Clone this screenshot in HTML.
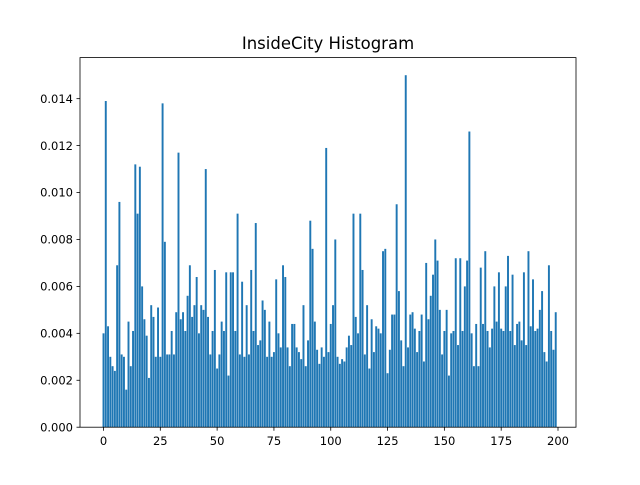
<!DOCTYPE html>
<html><head><meta charset="utf-8"><style>
body{margin:0;background:#fff;}
svg text{font-family:"DejaVu Sans","Liberation Sans",sans-serif;}
</style></head><body>
<svg id="chart" width="640" height="480" xmlns="http://www.w3.org/2000/svg">
<rect width="640" height="480" fill="#fff"/>
<text x="328" y="49" font-size="16.5" text-anchor="middle">InsideCity Histogram</text>
<g id="bars"></g>
<g id="axes"></g>
</svg>
<script>
const values = [0.0040,0.0139,0.0043,0.0030,0.0026,0.0024,0.0069,0.0096,0.0031,0.0030,0.0016,0.0045,0.0026,0.0041,0.0112,0.0091,0.0111,0.0060,0.0046,0.0039,0.0021,0.0052,0.0047,0.0030,0.0051,0.0030,0.0138,0.0079,0.0031,0.0031,0.0041,0.0031,0.0049,0.0117,0.0046,0.0049,0.0041,0.0056,0.0069,0.0047,0.0052,0.0064,0.0040,0.0052,0.0050,0.0110,0.0047,0.0031,0.0041,0.0067,0.0025,0.0031,0.0045,0.0041,0.0066,0.0022,0.0066,0.0066,0.0041,0.0091,0.0031,0.0062,0.0030,0.0052,0.0031,0.0067,0.0041,0.0087,0.0035,0.0037,0.0054,0.0050,0.0030,0.0045,0.0030,0.0032,0.0063,0.0040,0.0034,0.0069,0.0064,0.0034,0.0026,0.0044,0.0044,0.0034,0.0032,0.0029,0.0052,0.0026,0.0037,0.0088,0.0076,0.0045,0.0033,0.0027,0.0034,0.0030,0.0119,0.0032,0.0044,0.0052,0.0080,0.0030,0.0027,0.0029,0.0028,0.0034,0.0039,0.0035,0.0091,0.0047,0.0040,0.0091,0.0067,0.0031,0.0052,0.0025,0.0046,0.0032,0.0043,0.0042,0.0040,0.0075,0.0076,0.0023,0.0033,0.0048,0.0048,0.0095,0.0058,0.0037,0.0026,0.0150,0.0034,0.0048,0.0049,0.0042,0.0032,0.0041,0.0048,0.0028,0.0070,0.0046,0.0056,0.0065,0.0080,0.0071,0.0050,0.0031,0.0041,0.0050,0.0022,0.0040,0.0041,0.0072,0.0035,0.0072,0.0041,0.0060,0.0071,0.0126,0.0040,0.0026,0.0044,0.0026,0.0068,0.0044,0.0075,0.0041,0.0034,0.0042,0.0060,0.0045,0.0066,0.0042,0.0041,0.0060,0.0073,0.0041,0.0065,0.0035,0.0044,0.0045,0.0037,0.0066,0.0035,0.0075,0.0043,0.0063,0.0041,0.0042,0.0050,0.0058,0.0032,0.0028,0.0069,0.0041,0.0033,0.0049];
const xTicks = [0,25,50,75,100,125,150,175,200];
const yTicks = [0,0.002,0.004,0.006,0.008,0.010,0.012,0.014];
const yTickLabels = ["0.000","0.002","0.004","0.006","0.008","0.010","0.012","0.014"];

const L=80,R=576,T=57.6,B=427.2;
const yMax=Math.max(...values)*1.05;
function xs(v){return 103.5+v*(558-103.5)/200;}
function ys(v){return B-(v/yMax)*(B-T);}
const NS="http://www.w3.org/2000/svg";
const bars=document.getElementById('bars');
const bw=0.85*(558-103.5)/200;
values.forEach((v,i)=>{
  const r=document.createElementNS(NS,'rect');
  r.setAttribute('x',xs(i)-bw/2);
  r.setAttribute('y',ys(v));
  r.setAttribute('width',bw);
  r.setAttribute('height',B-ys(v));
  r.setAttribute('fill','#1f77b4');
  
  
  bars.appendChild(r);
});
const ax=document.getElementById('axes');
const frame=document.createElementNS(NS,'rect');
frame.setAttribute('x',L);frame.setAttribute('y',T);frame.setAttribute('width',R-L);frame.setAttribute('height',B-T);
frame.setAttribute('fill','none');frame.setAttribute('stroke','#000');frame.setAttribute('stroke-width','0.8');


ax.appendChild(frame);
xTicks.forEach(t=>{
  const x=xs(t);
  const l=document.createElementNS(NS,'line');
  l.setAttribute('x1',x);l.setAttribute('x2',x);l.setAttribute('y1',B);l.setAttribute('y2',B+3.5);
  l.setAttribute('stroke','#000');l.setAttribute('stroke-width','0.8');
  
  
  ax.appendChild(l);
  const tx=document.createElementNS(NS,'text');
  tx.setAttribute('x',x);tx.setAttribute('y',B+18);tx.setAttribute('font-size','11.5');tx.setAttribute('text-anchor','middle');
  tx.textContent=t;
  
  
  ax.appendChild(tx);
});
yTicks.forEach((t,i)=>{
  const y=ys(t);
  const l=document.createElementNS(NS,'line');
  l.setAttribute('x1',L-3.5);l.setAttribute('x2',L);l.setAttribute('y1',y);l.setAttribute('y2',y);
  l.setAttribute('stroke','#000');l.setAttribute('stroke-width','0.8');
  
  
  ax.appendChild(l);
  const tx=document.createElementNS(NS,'text');
  tx.setAttribute('x',L-7);tx.setAttribute('y',y+4.2);tx.setAttribute('font-size','11.5');tx.setAttribute('text-anchor','end');
  tx.textContent=yTickLabels[i];
  
  
  ax.appendChild(tx);
});
</script>
</body></html>
